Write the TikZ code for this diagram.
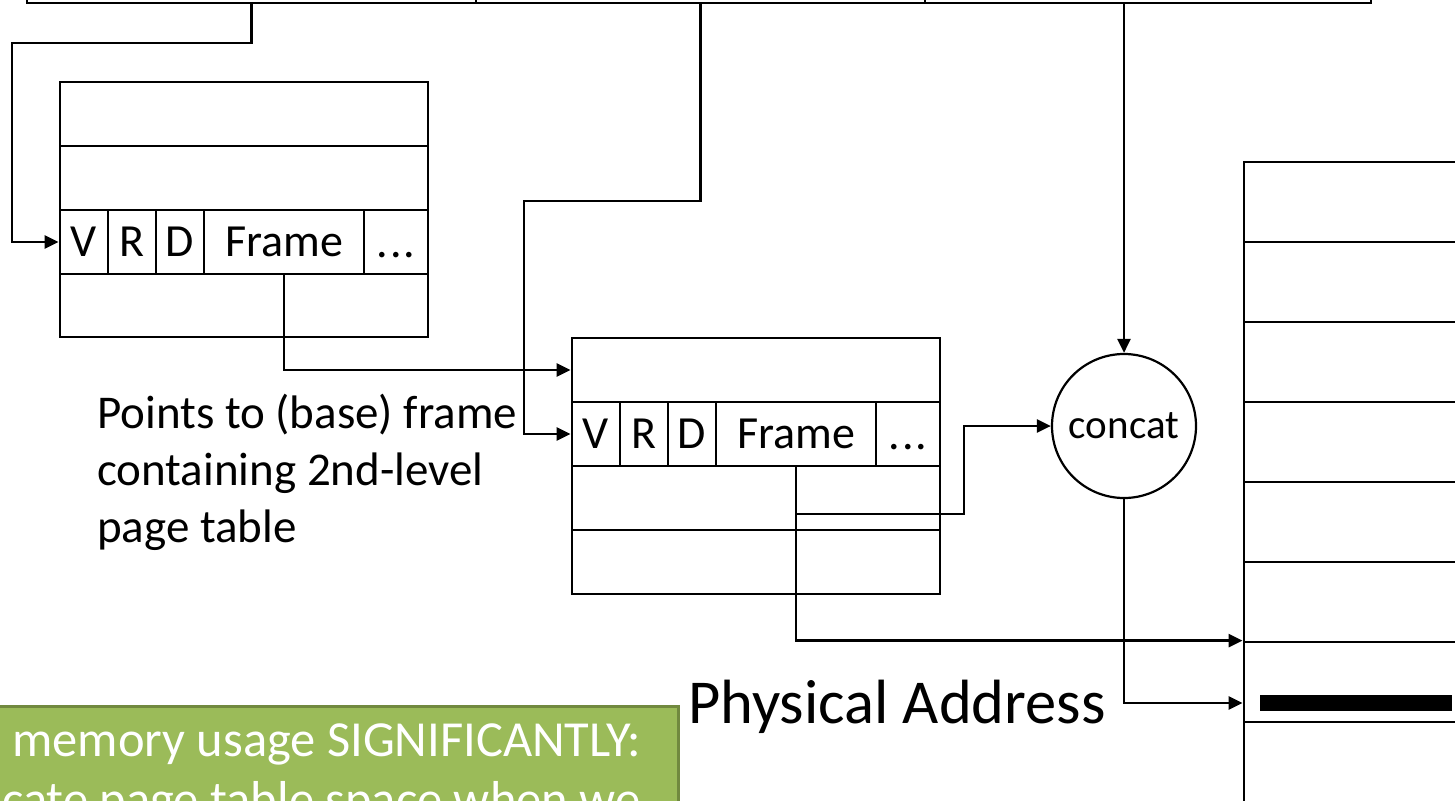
\documentclass[tikz,border=0pt]{standalone}
\usepackage{fontspec}
\setmainfont{Carlito}
\usetikzlibrary{arrows.meta,calc}
\definecolor{olive}{HTML}{9BBB59}
\definecolor{olivedark}{HTML}{71893F}
\newcommand{\mydots}{.\kern2pt.\kern2pt.}
\tikzset{
  cellbox/.style={draw, line width=2.8pt, inner sep=0pt, minimum height=64pt, font=\fontsize{46}{55}\selectfont},
  membox/.style={draw, line width=2.8pt, inner sep=0pt, minimum height=80pt, minimum width=260pt},
  conn/.style={line width=2.6pt, -{Triangle[length=14pt,width=13pt]}},
}
\begin{document}
\begin{tikzpicture}[x=1pt,y=-1pt]
\useasboundingbox (0,0) rectangle (1455,800);
\clip (0,0) rectangle (1455,800);

% address bar (top, cut off)
\node[cellbox, minimum width=449pt, minimum height=70pt] (a1) at (251.5,-32) {};
\node[cellbox, minimum width=449pt, minimum height=70pt] (a2) at (700.5,-32) {};
\node[cellbox, minimum width=446pt, minimum height=70pt] (a3) at (1148,-32) {};

% first-level page table
\node[cellbox, minimum width=368pt] (t1r1) at (244,114) {};
\node[cellbox, minimum width=368pt] (t1r2) at (244,178) {};
\node[cellbox, minimum width=48pt]  (t1v)  at (84,242) {V};
\node[cellbox, minimum width=48pt]  (t1r)  at (132,242) {R};
\node[cellbox, minimum width=48pt]  (t1d)  at (180,242) {D};
\node[cellbox, minimum width=160pt] (t1f)  at (284,242) {Frame};
\node[cellbox, minimum width=64pt, text height=30pt, text depth=0pt]  (t1x)  at (396,242) {\mydots};
\node[cellbox, minimum width=368pt, minimum height=63pt] (t1r4) at (244,305.5) {};

% second-level page table
\node[cellbox, minimum width=368pt] (t2r1) at (756,370) {};
\node[cellbox, minimum width=48pt]  (t2v)  at (596,434) {V};
\node[cellbox, minimum width=48pt]  (t2r)  at (644,434) {R};
\node[cellbox, minimum width=48pt]  (t2d)  at (692,434) {D};
\node[cellbox, minimum width=160pt] (t2f)  at (796,434) {Frame};
\node[cellbox, minimum width=64pt, text height=30pt, text depth=0pt]  (t2x)  at (908,434) {\mydots};
\node[cellbox, minimum width=368pt] (t2r3) at (756,498) {};
\node[cellbox, minimum width=368pt] (t2r4) at (756,562) {};

% concat
\node[draw, circle, line width=2.2pt, minimum size=144pt, inner sep=0pt,
      font=\fontsize{41}{49}\selectfont] (cc) at (1124,426) {concat};

% physical memory
\node[membox] (m1) at (1374,202) {};
\node[membox] (m2) at (1374,282) {};
\node[membox] (m3) at (1374,362) {};
\node[membox] (m4) at (1374,442) {};
\node[membox] (m5) at (1374,522) {};
\node[membox] (m6) at (1374,602) {};
\node[membox] (m7) at (1374,682) {};
\node[membox] (m8) at (1374,762) {};
\node[fill=black, inner sep=0pt, minimum width=192pt, minimum height=16pt] (bar) at (1356,703) {};

% texts
\node[anchor=base west, inner sep=0pt, align=left, font=\fontsize{47}{57}\selectfont] (note) at (97,542)
  {Points to (base) frame\\containing 2nd-level\\page table};
\node[anchor=base west, inner sep=0pt, font=\fontsize{62.5}{72}\selectfont] (pa) at (688,723) {Physical Address};

% green callout (cut off)
\node[draw=olivedark, fill=olive, line width=3pt, anchor=north west, inner sep=0pt,
      minimum width=700pt, minimum height=160pt] (green) at (-23,705) {};
\node[anchor=base west, inner sep=0pt, text=white, font=\fontsize{50.5}{60}\selectfont] (g1) at (12,756)
  {memory usage SIGNIFICANTLY:};
\node[anchor=base west, inner sep=0pt, text=white, font=\fontsize{50.5}{60}\selectfont] (g2) at (2,816)
  {cate page table space when we};

% connectors
\coordinate (c1) at (12,43);
\coordinate (c2) at (524,201);
\coordinate (c4) at (964,514);
\draw[conn] (a1.south) |- (c1) |- (t1v.west);
\draw[conn] (a2.south) |- (c2) |- (t2v.west);
\draw[conn] (cc.north |- a3.south) -- (cc.north);
\draw[conn] (t1f.south) |- (t2r1.west);
\draw[conn] (t2f.south) |- (c4) |- (cc.west);
\draw[conn] (t2f.south) |- (m7.north west);
\draw[conn] (cc.south) |- (bar.west -| m7.west);
\end{tikzpicture}
\end{document}
